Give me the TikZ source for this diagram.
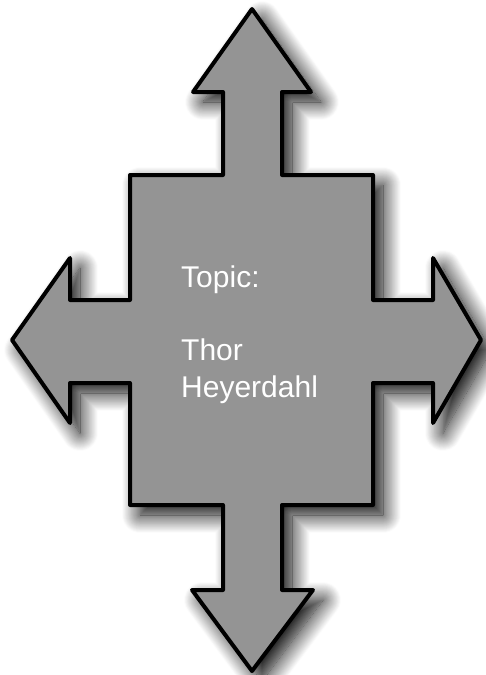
\documentclass[tikz,border=0pt]{standalone}
\usepackage{fontspec}
\setmainfont{Liberation Sans}
\usepackage{xcolor}
\usepackage{tikz}
\usetikzlibrary{shadows.blur}
\definecolor{arrowgray}{HTML}{949494}
\def\lineW{4pt}
\def\textSize{30}
\def\textSkip{36.5}
\begin{document}
\begin{tikzpicture}[
    x=1pt, y=-1pt,
    crossarrow/.style={fill=arrowgray, draw=black, line width=\lineW, line join=round,
        blur shadow={shadow xshift=10pt, shadow yshift=-10pt, shadow blur radius=18pt,
                     shadow blur steps=20, shadow opacity=100}},
    topiclabel/.style={text=white, align=left, inner sep=0pt,
        font=\fontsize{\textSize}{\textSkip}\selectfont}
]
\useasboundingbox (0,0) rectangle (485,675);
% the four-way arrow
\draw[crossarrow]
    (252,9) -- (311,92) -- (282,92) -- (282,175) -- (373,175) -- (373,300)
    -- (433,300) -- (433,258) -- (481,340) -- (433,423) -- (433,383) -- (373,383)
    -- (373,505) -- (282,505) -- (282,590) -- (313,590) -- (252,671) -- (192,590)
    -- (223,590) -- (223,505) -- (130,505) -- (130,383) -- (70,383) -- (70,423)
    -- (12,340) -- (70,258) -- (70,300) -- (130,300) -- (130,175) -- (223,175)
    -- (223,92) -- (193,92) -- cycle;
% label
\node[topiclabel, anchor=base west] (topic) at (181,397) {Topic:\\[\textSkip pt]Thor\\Heyerdahl};
\end{tikzpicture}
\end{document}
